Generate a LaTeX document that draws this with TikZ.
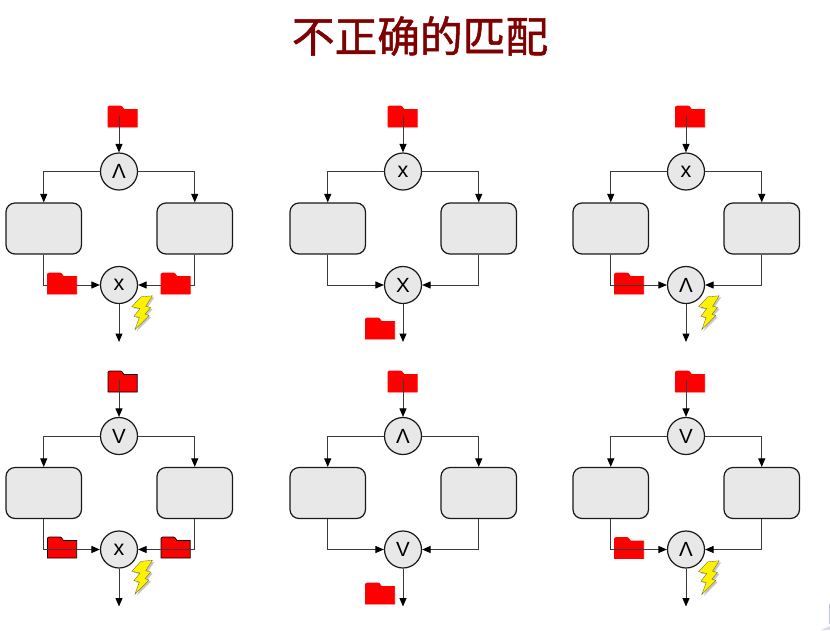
\documentclass[tikz,border=0pt]{standalone}
\usepackage{fontspec}
\setmainfont{Liberation Sans}
\newfontfamily\cjk[FakeBold=1.2]{Noto Sans CJK SC}
\usetikzlibrary{arrows.meta}
\definecolor{gatefill}{HTML}{E8E8E8}
\definecolor{linegrey}{HTML}{3A3A3A}
\definecolor{titlered}{HTML}{7F0000}
\tikzset{
  x=1pt,y=-1pt,
  gate/.style={circle,draw=black!90,fill=gatefill,line width=1.2pt,minimum size=37pt,inner sep=0pt,font=\fontsize{20.5}{20.5}\selectfont},
  taskbox/.style={rectangle,rounded corners=9pt,draw=black!90,fill=gatefill,line width=1.2pt,minimum width=75.5pt,minimum height=51pt,inner sep=0pt},
  flow/.style={draw=linegrey,line width=1pt,-{Triangle[length=8.5pt,width=7pt,black]}},
  pics/folder/.style={code={
    \path[fill=red,draw=#1,line width=.7pt] (-14.5,-9.5) -- (-14.5,10.5) -- (14.7,10.5) -- (14.7,-7) -- (1.5,-7) -- (-0.5,-9.8) -- (-2,-10.5) -- (-13,-10.5) -- cycle;
  }},
  pics/bolt/.style={code={
    \path[fill=black!40,opacity=.55,shift={(2,1.5)}] (-0.7,-15.7) -- (10.7,-16.7) -- (4,-6.3) -- (9,-5) -- (3.3,1.7) -- (7.3,3) -- (-6.7,17) -- (-2.3,5) -- (-7.7,3.7) -- (-1.7,-4) -- (-10,-5.7) -- cycle;
    \path[fill=yellow,draw=olive!70!black,line width=.35pt] (-0.7,-15.7) -- (10.7,-16.7) -- (4,-6.3) -- (9,-5) -- (3.3,1.7) -- (7.3,3) -- (-6.7,17) -- (-2.3,5) -- (-7.7,3.7) -- (-1.7,-4) -- (-10,-5.7) -- cycle;
  }}
}
\newcommand{\lowx}{\raisebox{-3pt}{\fontsize{21.5}{21.5}\selectfont x}}
% name, centre x, top gate y, top label, bottom label
\newcommand{\wfpanel}[5]{%
  \node[gate] (#1t) at (#2,#3) {#4};
  \node[taskbox] (#1l) at (#2-75.25,#3+57) {};
  \node[taskbox] (#1r) at (#2+75.75,#3+57) {};
  \node[gate] (#1b) at (#2,#3+113.5) {#5};
  \coordinate (#1s) at (#2,#3-56);
  \coordinate (#1e) at (#2,#3+170.5);
  \draw[flow] (#1s) -- (#1t);
  \draw[flow] (#1t) -| (#1l);
  \draw[flow] (#1t) -| (#1r);
  \draw[flow] (#1l) |- (#1b);
  \draw[flow] (#1r) |- (#1b);
  \draw[flow] (#1b) -- (#1e);
}
\begin{document}
\begin{tikzpicture}
\useasboundingbox (0,0) rectangle (830,630);
\fill[white] (0,0) rectangle (830,630);
\node[font=\cjk\fontsize{42.7}{42.7}\selectfont,text=titlered,inner sep=0pt] (title) at (420,36) {不正确的匹配};

% folders lying under the connectors
\path (122.5,116.5) pic {folder=red};
\path (402.5,116.5) pic {folder=red};
\path (690,116.5) pic {folder=red};
\path (122.5,381.5) pic {folder=black};
\path (402.5,381.5) pic {folder=red};
\path (690,381.5) pic {folder=red};
\path (62,547.5) pic {folder=black};
\path (175.5,547.5) pic {folder=black};
\path (629,283.5) pic {folder=red};
\path (629,548) pic {folder=red};

\wfpanel{a}{119}{171.5}{Λ}{\lowx}
\wfpanel{b}{403}{171.5}{\lowx}{X}
\wfpanel{c}{686}{171.5}{\lowx}{Λ}
\wfpanel{d}{119}{436}{V}{\lowx}
\wfpanel{e}{403}{436}{Λ}{V}
\wfpanel{f}{686}{436}{V}{Λ}

% folders lying over the connectors
\path (62,283.5) pic {folder=red};
\path (175.5,283.5) pic {folder=red};
\path (380,328.5) pic {folder=red};
\path (380,593.5) pic {folder=red};

% lightning
\path (141.7,312.5) pic {bolt};
\path (708.5,312.5) pic {bolt};
\path (141.7,577) pic {bolt};
\path (708.5,577.5) pic {bolt};

\fill[cyan!30!blue!25] (828.5,604) rectangle (830,624);
\fill[cyan!30!blue!15] (821,630) -- (830,626) -- (830,630) -- cycle;
\end{tikzpicture}
\end{document}
